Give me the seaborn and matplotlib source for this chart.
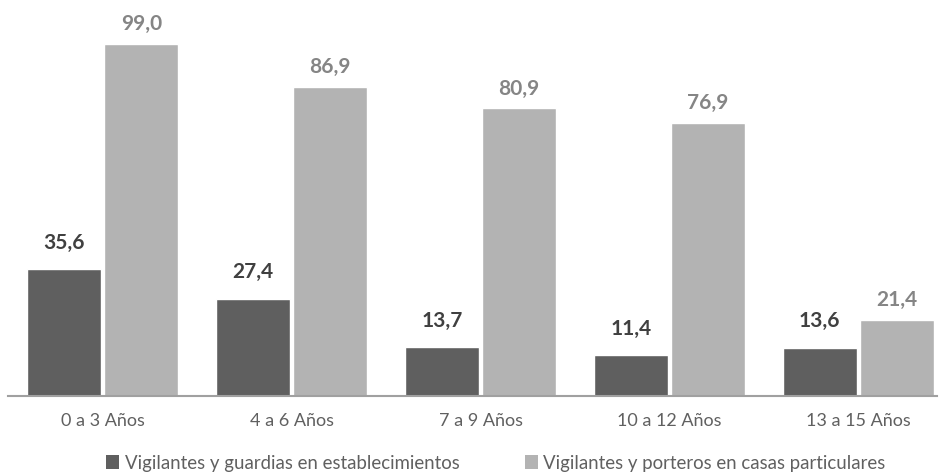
import matplotlib
matplotlib.use("Agg")
import matplotlib.pyplot as plt
import seaborn as sns
import pandas as pd
from matplotlib.patches import Patch

categories = ["0 a 3 Años", "4 a 6 Años", "7 a 9 Años", "10 a 12 Años", "13 a 15 Años"]
series_names = ["Vigilantes y guardias en establecimientos",
                "Vigilantes y porteros en casas particulares"]
establecimientos = [35.6, 27.4, 13.7, 11.4, 13.6]
casas = [99.0, 86.9, 80.9, 76.9, 21.4]

colors = ["#5f5f5f", "#b3b3b3"]
label_colors = ["#404040", "#858585"]

df = pd.DataFrame({
    "cat": categories * 2,
    "serie": [series_names[0]] * 5 + [series_names[1]] * 5,
    "val": establecimientos + casas,
})

sns.set_theme(style="white")
plt.rcParams["font.family"] = ["Lato", "DejaVu Sans"]

fig = plt.figure(figsize=(9.43, 4.76), dpi=100)
ax = fig.add_axes([8 / 943, 80 / 476, 929 / 943, 396 / 476])

sns.barplot(data=df, x="cat", y="val", hue="serie", order=categories,
            hue_order=series_names, palette=colors, width=0.816, gap=0.04,
            saturation=1, legend=False, ax=ax)

ax.set_xlim(-0.503, 4.418)
ax.set_ylim(0, 111.35)
ax.set_xlabel("")
ax.set_ylabel("")
ax.set_yticks([])
for s in ["top", "right", "left"]:
    ax.spines[s].set_visible(False)
ax.spines["bottom"].set_color("#a0a0a0")
ax.spines["bottom"].set_linewidth(1.5)
ax.tick_params(axis="x", length=0, pad=12, labelsize=13, labelcolor="#606060")

pads = [12, 7]
for i, cont in enumerate(ax.containers):
    ax.bar_label(cont, labels=[f"{v:.1f}".replace(".", ",") for v in cont.datavalues],
                 padding=pads[i], fontsize=15, fontweight="bold", color=label_colors[i])

handles = [Patch(facecolor=c, edgecolor="none") for c in colors]
fig.legend(handles, series_names, loc="center left", bbox_to_anchor=(106 / 943, 13 / 476),
           ncol=2, frameon=False, fontsize=13.4, labelcolor="#606060",
           handlelength=0.7, handleheight=0.7, handletextpad=0.3,
           columnspacing=3.5, borderpad=0, borderaxespad=0)

fig.savefig("out.png", dpi=100)
